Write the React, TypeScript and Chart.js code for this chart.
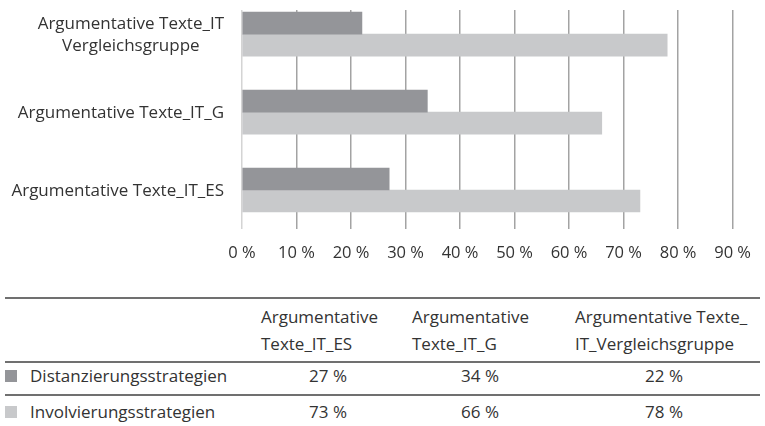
import React, { useEffect, useRef } from "react";
import { Chart, registerables } from "chart.js";

Chart.register(...registerables);

// ---- data ----
const categories = [
  "Argumentative Texte_IT_ES",
  "Argumentative Texte_IT_G",
  "Argumentative Texte_IT_Vergleichsgruppe",
];
const axisLabelLines = [
  ["Argumentative Texte_IT_ES"],
  ["Argumentative Texte_IT_G"],
  ["Argumentative Texte_IT", "Vergleichsgruppe"],
];
const headerLines = [
  ["Argumentative", "Texte_IT_ES"],
  ["Argumentative", "Texte_IT_G"],
  ["Argumentative Texte_", "IT_Vergleichsgruppe"],
];
const seriesNames = ["Distanzierungsstrategien", "Involvierungsstrategien"];
const distanzierung = [27, 34, 22];
const involvierung = [73, 66, 78];
const xTickValues = [0, 10, 20, 30, 40, 50, 60, 70, 80, 90];

// ---- style ----
const FONT = "'Open Sans', sans-serif";
const TEXT = "#333333";
const seriesColors = ["#949599", "#c8c9cb"];
const CANVAS_W = 765;
const CANVAS_H = 270;

const yLabelPlugin = {
  id: "yLabels",
  afterDraw(chart: any) {
    const { ctx } = chart;
    const y = chart.scales.y;
    ctx.save();
    ctx.font = `17px ${FONT}`;
    ctx.fillStyle = TEXT;
    ctx.textAlign = "center";
    ctx.textBaseline = "middle";
    axisLabelLines.forEach((lines, i) => {
      const cy = y.getPixelForValue(i);
      const w = Math.max(...lines.map((l) => ctx.measureText(l).width));
      const cx = y.right - 18 - w / 2;
      lines.forEach((line, j) => {
        ctx.fillText(line, cx, cy + (j - (lines.length - 1) / 2) * 22 + 1);
      });
    });
    ctx.restore();
  },
};

function BarChart() {
  const ref = useRef<HTMLCanvasElement | null>(null);
  useEffect(() => {
    if (!ref.current) return;
    const chart = new Chart(ref.current, {
      type: "bar",
      data: {
        datasets: [
          {
            label: seriesNames[0],
            data: categories.map((_, i) => ({ x: distanzierung[i], y: i })),
            backgroundColor: seriesColors[0],
            barThickness: 22,
          },
          {
            label: seriesNames[1],
            data: categories.map((_, i) => ({ x: involvierung[i], y: i })),
            backgroundColor: seriesColors[1],
            barThickness: 22,
          },
        ],
      },
      options: {
        indexAxis: "y",
        animation: false,
        responsive: false,
        maintainAspectRatio: false,
        layout: { padding: { top: 10, right: 20, left: 0, bottom: 0 } },
        plugins: { legend: { display: false }, tooltip: { enabled: false } },
        scales: {
          x: {
            type: "linear",
            min: xTickValues[0],
            max: xTickValues[xTickValues.length - 1],
            afterBuildTicks: (s: any) => {
              s.ticks = xTickValues.map((v) => ({ value: v }));
            },
            ticks: {
              callback: (v: any) => `${v} %`,
              font: { family: FONT, size: 16.5 },
              color: TEXT,
              padding: 14,
              maxRotation: 0,
              autoSkip: false,
            },
            grid: {
              drawTicks: false,
              color: (c: any) => (c.tick && c.tick.value === 0 ? "#d4d4d4" : "#a3a3a3"),
              lineWidth: 1.5,
            },
            border: { display: false },
            afterFit: (s: any) => {
              s.height = 41;
            },
          },
          y: {
            type: "linear",
            offset: false,
            grace: 0,
            min: -0.5,
            max: 2.31,
            afterBuildTicks: (s: any) => {
              s.ticks = categories.map((_, i) => ({ value: i }));
            },
            ticks: { display: false },
            grid: { display: false, offset: false },
            border: { display: false },
            afterFit: (s: any) => {
              s.width = 242;
            },
          },
        },
      } as any,
      plugins: [yLabelPlugin],
    });
    return () => chart.destroy();
  }, []);
  return (
    <canvas
      ref={ref}
      width={CANVAS_W}
      height={CANVAS_H}
      style={{ position: "absolute", left: 0, top: 0, width: CANVAS_W, height: CANVAS_H }}
    />
  );
}

const seriesValues = [distanzierung, involvierung];
const colCenters = [328, 480, 664];
const headerLefts = [261, 412, 575];
const rowTops = [364, 400];
const ruleTops = [297, 361, 394];

export default function App() {
  const text: React.CSSProperties = {
    position: "absolute",
    fontFamily: FONT,
    fontSize: 17,
    color: TEXT,
    whiteSpace: "nowrap",
  };
  return (
    <div
      style={{
        position: "absolute",
        left: 0,
        top: 0,
        width: 765,
        height: 426,
        background: "#ffffff",
        overflow: "hidden",
      }}
    >
      <BarChart />
      {ruleTops.map((t, i) => (
        <div
          key={"r" + i}
          style={{ position: "absolute", left: 5, width: 755, top: t, height: 2, background: "#707070" }}
        />
      ))}
      {headerLines.map((lines, i) => (
        <div key={"h" + i} style={{ ...text, left: headerLefts[i], top: 303, lineHeight: "27px" }}>
          {lines.map((l, j) => (
            <div key={j}>{l}</div>
          ))}
        </div>
      ))}
      {seriesNames.map((name, r) => (
        <React.Fragment key={"row" + r}>
          <div
            style={{
              position: "absolute",
              left: 5,
              top: rowTops[r] + 6,
              width: 12,
              height: 12,
              background: seriesColors[r],
            }}
          />
          <div style={{ ...text, left: 30, top: rowTops[r], lineHeight: "23px" }}>{name}</div>
          {seriesValues[r].map((v, c) => (
            <div
              key={c}
              style={{
                ...text,
                left: colCenters[c] - 50,
                width: 100,
                textAlign: "center",
                top: rowTops[r],
                lineHeight: "23px",
              }}
            >
              {`${v} %`}
            </div>
          ))}
        </React.Fragment>
      ))}
    </div>
  );
}
